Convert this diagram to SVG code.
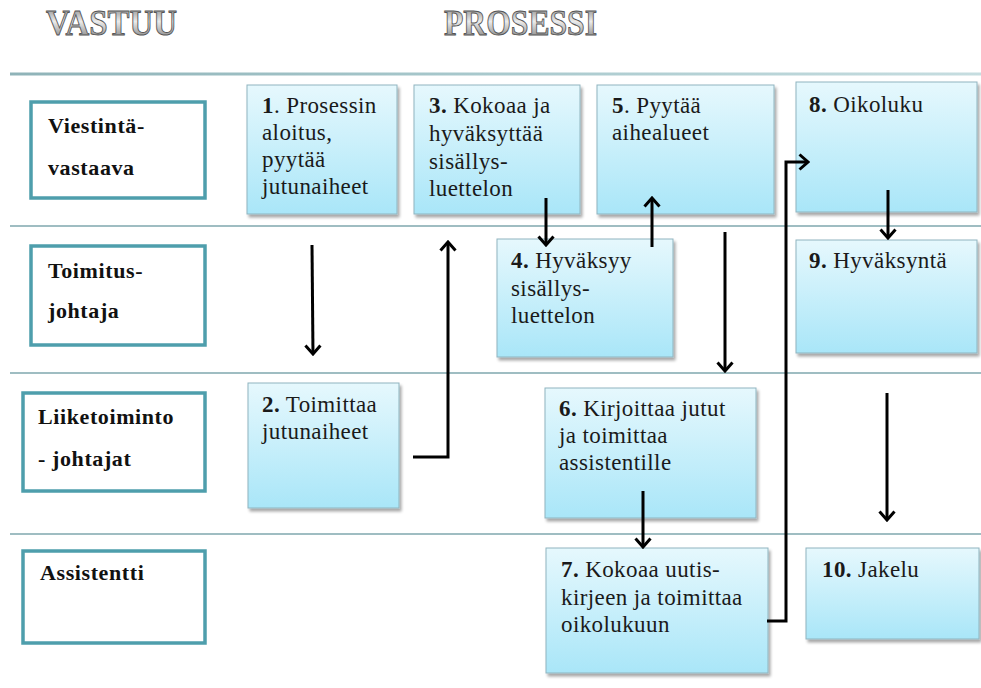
<svg xmlns="http://www.w3.org/2000/svg" width="981" height="688" viewBox="0 0 981 688">
<defs>
<linearGradient id="boxg" x1="0" y1="0" x2="0" y2="1">
<stop offset="0" stop-color="#e6f8fd"/>
<stop offset="1" stop-color="#a9e6f8"/>
</linearGradient>
<linearGradient id="metal" x1="0" y1="0" x2="0" y2="1">
<stop offset="0" stop-color="#7a7a7a"/>
<stop offset="0.45" stop-color="#ebebeb"/>
<stop offset="0.6" stop-color="#c8c8c8"/>
<stop offset="1" stop-color="#6a6a6a"/>
</linearGradient>
<linearGradient id="topline" x1="0" y1="0" x2="1" y2="0">
<stop offset="0" stop-color="#8fb3b8"/>
<stop offset="0.5" stop-color="#a9c9cd"/>
<stop offset="1" stop-color="#c6dde0"/>
</linearGradient>
<filter id="sh" x="-10%" y="-10%" width="125%" height="125%">
<feGaussianBlur in="SourceAlpha" stdDeviation="1.5"/>
<feOffset dx="1.5" dy="2.5" result="b"/>
<feComponentTransfer><feFuncA type="linear" slope="0.35"/></feComponentTransfer>
<feMerge><feMergeNode/><feMergeNode in="SourceGraphic"/></feMerge>
</filter>
<marker id="ah" viewBox="0 0 12 18" refX="10" refY="9" markerWidth="12" markerHeight="18" markerUnits="userSpaceOnUse" orient="auto">
<path d="M1.5,1.5 L10,9 L1.5,16.5" fill="none" stroke="#000" stroke-width="3"/>
</marker>
</defs>
<style>
.hdr{font-weight:bold;font-size:35px;fill:url(#metal);stroke:#555;stroke-width:0.9}
.lane{stroke:#7fa7ae;stroke-width:1.5}
.role rect{fill:#fff;stroke:#4e9eac;stroke-width:3.5}
.role text{font-weight:bold;font-size:22px;letter-spacing:0.6px;fill:#111}
.step rect{fill:url(#boxg);stroke:#8fb4bf;stroke-width:1;filter:url(#sh)}
.step text{font-size:23px;letter-spacing:0.4px;fill:#1a1a1a}
.b{font-weight:bold}
.conn path{fill:none;stroke:#000;stroke-width:3;marker-end:url(#ah)}
</style>
<rect width="981" height="688" fill="#fff"/>
<g font-family="'Liberation Serif', 'Times New Roman', 'DejaVu Serif', serif">
<g id="headers">
<text class="hdr" x="46" y="35" textLength="131" lengthAdjust="spacingAndGlyphs">VASTUU</text>
<text class="hdr" x="444" y="35" textLength="153" lengthAdjust="spacingAndGlyphs">PROSESSI</text>
</g>
<g id="lanes">
<rect x="10" y="72.5" width="971" height="3" fill="url(#topline)"/>
<line class="lane" x1="10" y1="226" x2="981" y2="226"/>
<line class="lane" x1="10" y1="373" x2="981" y2="373"/>
<line class="lane" x1="10" y1="534" x2="981" y2="534"/>
</g>
<g id="role-viestinta" class="role">
<rect x="31" y="102" width="174" height="96"/>
<text x="48" y="133">Viestintä-</text>
<text x="48" y="175">vastaava</text>
</g>
<g id="role-toimitus" class="role">
<rect x="31" y="246" width="174" height="99"/>
<text x="48" y="278">Toimitus-</text>
<text x="48" y="318">johtaja</text>
</g>
<g id="role-liiketoiminto" class="role">
<rect x="23" y="393" width="182" height="98"/>
<text x="38" y="424">Liiketoiminto</text>
<text x="38" y="466">- johtajat</text>
</g>
<g id="role-assistentti" class="role">
<rect x="23" y="551" width="182" height="92"/>
<text x="40" y="580">Assistentti</text>
</g>
<g id="step1" class="step">
<rect x="247" y="85" width="150" height="129"/>
<text x="262" y="113"><tspan class="b">1</tspan>. Prosessin</text>
<text x="262" y="140">aloitus,</text>
<text x="262" y="167">pyytää</text>
<text x="262" y="194">jutunaiheet</text>
</g>
<g id="step2" class="step">
<rect x="248" y="383" width="151" height="125"/>
<text x="262" y="412"><tspan class="b">2.</tspan> Toimittaa</text>
<text x="262" y="439">jutunaiheet</text>
</g>
<g id="step3" class="step">
<rect x="414" y="85" width="166" height="129"/>
<text x="429" y="113"><tspan class="b">3.</tspan> Kokoaa ja</text>
<text x="429" y="141">hyväksyttää</text>
<text x="429" y="169">sisällys-</text>
<text x="429" y="196">luettelon</text>
</g>
<g id="step4" class="step">
<rect x="497" y="239" width="176" height="118"/>
<text x="511" y="268"><tspan class="b">4.</tspan> Hyväksyy</text>
<text x="511" y="296">sisällys-</text>
<text x="511" y="323">luettelon</text>
</g>
<g id="step5" class="step">
<rect x="597" y="85" width="177" height="129"/>
<text x="612" y="113"><tspan class="b">5</tspan>. Pyytää</text>
<text x="612" y="140">aihealueet</text>
</g>
<g id="step6" class="step">
<rect x="545" y="388" width="211" height="130"/>
<text x="559" y="416"><tspan class="b">6.</tspan> Kirjoittaa jutut</text>
<text x="559" y="443">ja toimittaa</text>
<text x="559" y="470">assistentille</text>
</g>
<g id="step7" class="step">
<rect x="546" y="548" width="222" height="125"/>
<text x="561" y="577"><tspan class="b">7.</tspan> Kokoaa uutis-</text>
<text x="561" y="605">kirjeen ja toimittaa</text>
<text x="561" y="632">oikolukuun</text>
</g>
<g id="step8" class="step">
<rect x="796" y="82" width="181" height="130"/>
<text x="809" y="112"><tspan class="b">8.</tspan> Oikoluku</text>
</g>
<g id="step9" class="step">
<rect x="796" y="240" width="181" height="113"/>
<text x="809" y="268"><tspan class="b">9.</tspan> Hyväksyntä</text>
</g>
<g id="step10" class="step">
<rect x="806" y="548" width="173" height="91"/>
<text x="822" y="577"><tspan class="b">10.</tspan> Jakelu</text>
</g>
</g>
<g id="connectors" class="conn">
<path d="M312,245 L313,354"/>
<path d="M413,457 L448,457 L448,242"/>
<path d="M546,198 L546,245"/>
<path d="M652,247 L652,198"/>
<path d="M725,232 L725,371"/>
<path d="M643,491 L643,547"/>
<path d="M767,621 L786,621 L786,162 L808,162"/>
<path d="M888,190 L888,238"/>
<path d="M887,393 L887,520"/>
</g>
</svg>
